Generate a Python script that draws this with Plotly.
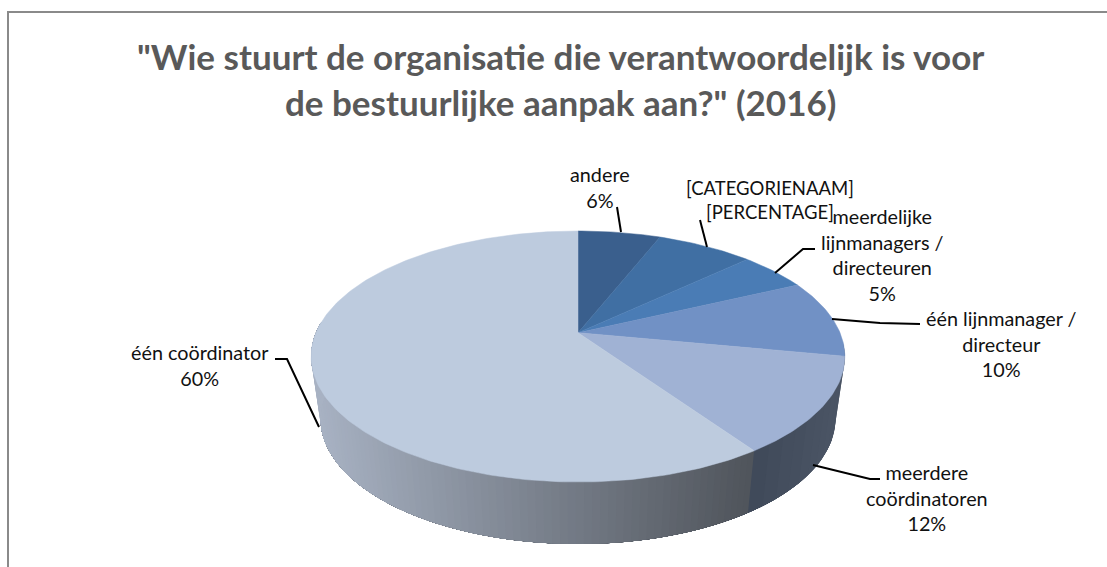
import numpy as np
import plotly.graph_objects as go

categories = ["andere", "[CATEGORIENAAM]", "meerdelijke lijnmanagers / directeuren",
              "één lijnmanager / directeur", "meerdere coördinatoren", "één coördinator"]
values = [6, 7, 5, 10, 12.4, 59.6]
label_lines = ["andere<br>6%", "[CATEGORIENAAM]<br>[PERCENTAGE]",
               "meerdelijke<br>lijnmanagers /<br>directeuren<br>5%",
               "één lijnmanager /<br>directeur<br>10%",
               "meerdere<br>coördinatoren<br>12%", "één coördinator<br>60%"]
title_text = '"Wie stuurt de organisatie die verantwoordelijk is voor<br>de bestuurlijke aanpak aan?" (2016)'
top_colors = ["#3a5f8d", "#406fa3", "#4a7cb5", "#7191c5", "#a0b2d4", "#bdcbde"]

W, H = 1107, 567
CX, CY, A, B, K = 578, 332.7, 262, 121, 0.1896
DEPTH, SHRINK = 62, 0.965
FONT = "Lato"


def rim(theta):
    X, Y = np.sin(theta), np.cos(theta)
    w = 1 + K * Y
    return CX + A * X / w, CY - B * Y / w


def lower(theta):
    x, y = rim(theta)
    return CX + SHRINK * (x - CX), y + DEPTH


def hexmix(c1, c2, t):
    a = [int(c1[i:i + 2], 16) for i in (1, 3, 5)]
    b = [int(c2[i:i + 2], 16) for i in (1, 3, 5)]
    return "#%02x%02x%02x" % tuple(int(round(p + (q - p) * t)) for p, q in zip(a, b))


fig = go.Figure()
edges = np.cumsum([0] + values) / sum(values) * 2 * np.pi

wall_start, wall_split, wall_end = np.radians(95), edges[5], np.radians(275)


def wall(t0, t1, color):
    ts = np.linspace(t0, t1, 60)
    xu, yu = rim(ts)
    xl, yl = lower(ts)
    fig.add_trace(go.Scatter(x=np.r_[xu, xl[::-1]], y=np.r_[yu, yl[::-1]], mode="lines",
                             fill="toself", fillcolor=color, line=dict(width=0),
                             hoverinfo="skip", showlegend=False))


# painter's order: each strip covers everything to its left, so no seams show
strips = np.linspace(wall_start, wall_split, 14)
for t0 in strips[:-1]:
    t = np.clip((rim(t0)[0] - 752) / (840 - 752), 0, 1)
    wall(t0, wall_end, hexmix("#3e4858", "#4a5464", t))
strips = np.linspace(wall_split, wall_end, 90)
for t0 in strips[:-1]:
    t = np.clip((rim(t0)[0] - 315) / (752 - 315), 0, 1)
    wall(t0, wall_end, hexmix("#a8b2c3", "#50555c", t))

for i, name in enumerate(categories):
    ts = np.linspace(edges[i], edges[i + 1], max(6, int(values[i] * 4)))
    xr, yr = rim(ts)
    fig.add_trace(go.Scatter(x=np.r_[CX, xr, CX], y=np.r_[CY, yr, CY], mode="lines", fill="toself",
                             fillcolor=top_colors[i], line=dict(color=top_colors[i], width=0.5),
                             name=name, showlegend=False, hoverinfo="name"))

leaders = [
    [(621, 232), (617, 207)],
    [(707, 247), (700, 220)],
    [(775, 273), (803, 249), (815, 249)],
    [(832, 319), (880, 323), (920, 324)],
    [(813, 465), (870, 479), (880, 479)],
    [(319, 427), (287, 359), (275, 359)],
]
shapes = [dict(type="path", xref="x", yref="y",
               path="M" + " L".join(f"{x},{y}" for x, y in pts),
               line=dict(color="black", width=2), layer="above") for pts in leaders]
shapes.append(dict(type="path", xref="x", yref="y", path="M8,567 L8,12 L1107,12",
                   line=dict(color="#8a8a8a", width=2), layer="below"))

label_pos = [(600, 187), (770, 200), (882, 254.5), (1001, 343), (927, 497), (200, 365)]
label_size = [19.8, 18.5, 19.8, 19.8, 19.8, 19.8]
ann = [dict(x=x, y=y, text=t, showarrow=False, xref="x", yref="y", align="center",
            xanchor="center", yanchor="middle",
            font=dict(family=FONT, size=s, color="#111111"))
       for (x, y), t, s in zip(label_pos, label_lines, label_size)]
ann.append(dict(x=560, y=78.5, text=title_text, showarrow=False, xref="x", yref="y", align="center",
                xanchor="center", yanchor="middle",
                font=dict(family=FONT, size=35, color="#595959", weight="bold")))

fig.update_layout(width=W, height=H, margin=dict(l=0, r=0, t=0, b=0), showlegend=False,
                  paper_bgcolor="white", plot_bgcolor="white", shapes=shapes, annotations=ann,
                  xaxis=dict(range=[0, W], visible=False, fixedrange=True),
                  yaxis=dict(range=[H, 0], visible=False, fixedrange=True))
fig.write_html("out.html", config=dict(displayModeBar=False),
               post_script="document.body.style.margin='0';document.body.style.overflow='hidden';")
